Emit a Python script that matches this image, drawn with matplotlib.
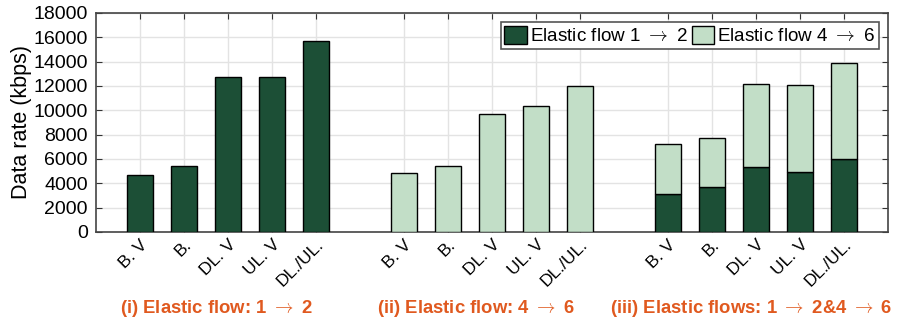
import numpy as np
import matplotlib.pyplot as plt
import matplotlib.transforms as mtransforms

plt.rcParams['font.family'] = ['Liberation Sans', 'DejaVu Sans']
plt.rcParams['mathtext.fontset'] = 'cm'

labels = ["B. V", "B.", "DL. V", "UL. V", "DL./UL."]
flow12_only = [4700, 5450, 12700, 12700, 15700]
flow46_only = [4820, 5450, 9720, 10330, 11980]
both_flow12 = [3150, 3670, 5320, 4930, 6030]
both_flow46 = [4080, 4060, 6820, 7120, 7890]
group_titles = ["(i) Elastic flow: 1 $\\rightarrow$ 2",
                "(ii) Elastic flow: 4 $\\rightarrow$ 6",
                "(iii) Elastic flows: 1 $\\rightarrow$ 2&4 $\\rightarrow$ 6"]

dark = "#1c4f36"
light = "#c2dec7"
orange = "#e0591f"

fig = plt.figure(figsize=(8.98, 3.23), dpi=100)
ax = fig.add_axes([0.107, 0.282, 0.882, 0.678])

n = len(labels)
x1 = np.arange(1, n + 1)
x2 = x1 + 6
x3 = x1 + 12
w = 0.6
kw = dict(width=w, edgecolor="black", linewidth=1, zorder=3)

ax.bar(x1, flow12_only, color=dark, label="Elastic flow 1 $\\rightarrow$ 2", **kw)
ax.bar(x2, flow46_only, color=light, label="Elastic flow 4 $\\rightarrow$ 6", **kw)
ax.bar(x3, both_flow12, color=dark, **kw)
ax.bar(x3, both_flow46, bottom=both_flow12, color=light, **kw)

ax.set_xlim(0, 18)
ax.set_ylim(0, 18000)
ax.set_yticks(np.arange(0, 18001, 2000))
ax.set_xticks(np.concatenate([x1, x2, x3]))
ax.set_xticklabels(labels * 3, rotation=45, ha="right", va="top",
                   rotation_mode="anchor", fontsize=12.5)
shift = mtransforms.ScaledTranslation(5 / 72, -6 / 72, fig.dpi_scale_trans)
for lab in ax.get_xticklabels():
    lab.set_transform(lab.get_transform() + shift)
ax.tick_params(axis="y", labelsize=14, pad=6)
ax.tick_params(direction="in", top=True, right=True, length=4, color="#333333")
ax.set_ylabel("Data rate (kbps)", fontsize=15.5, labelpad=1)

ax.grid(True, color="#e3e3e3", linewidth=1, zorder=0)
ax.set_axisbelow(True)
for s in ax.spines.values():
    s.set_color("#444444")
    s.set_linewidth(1.2)

leg = ax.legend(loc="upper right", ncol=2, fontsize=13.6, frameon=True,
                fancybox=False, edgecolor="#555555", framealpha=1,
                handlelength=1.2, handleheight=1.05, handletextpad=0.15,
                columnspacing=0.2, borderpad=0.2, borderaxespad=0.5)
leg.get_frame().set_linewidth(1.2)

for cx, t in zip([2.73, 8.64, 14.89], group_titles):
    ax.text(cx, -0.35, t, transform=ax.get_xaxis_transform(), ha="center",
            va="center", fontsize=13.3, fontweight="bold", color=orange)

fig.savefig("out.png", dpi=100)
